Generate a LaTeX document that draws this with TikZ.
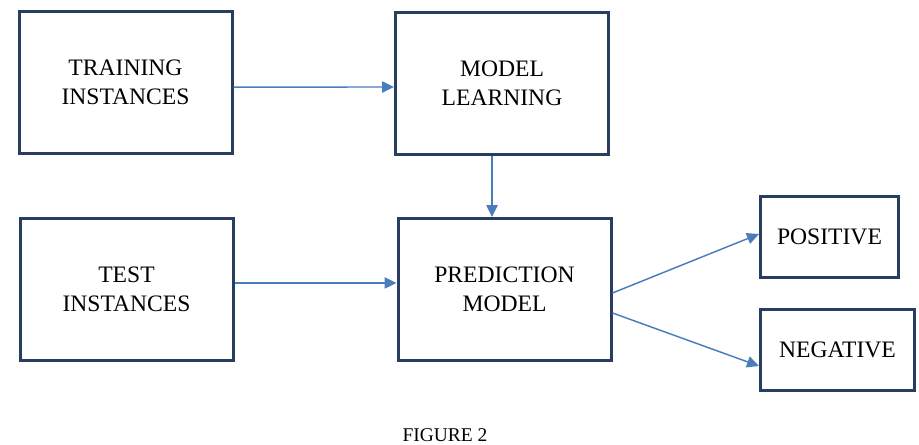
\documentclass[tikz,border=0pt]{standalone}
\usepackage{fontspec}
\setmainfont{Liberation Serif}
\usetikzlibrary{arrows.meta}
\definecolor{boxnavy}{RGB}{40,62,96}
\definecolor{arrblue}{RGB}{74,126,187}
\tikzset{
  box/.style={draw=boxnavy, line width=2.25pt, fill=white, align=center,
    minimum width=159.75pt, minimum height=106.5pt, inner sep=0pt,
    font=\fontsize{17.7}{21.75}\selectfont},
  outbox/.style={box, minimum height=60.75pt},
  arr/.style={draw=arrblue, line width=1.1pt, -{Triangle[length=9pt,width=8.5pt]}}
}
\begin{document}
\begin{tikzpicture}[x=0.75pt, y=-0.75pt]
    \useasboundingbox (0,0) rectangle (919,444);

    % left column
    \node[box] (train) at (125.5,82.5) {TRAINING\\INSTANCES};
    \node[box] (test) at (126.5,289.5) {TEST\\INSTANCES};

    % middle column
    \node[box] (learn) at (502,83) {MODEL\\LEARNING};
    \node[box] (pred) at (504.5,289.5) {PREDICTION\\MODEL};

    % outcomes
    \node[outbox, minimum width=103.5pt] (pos) at (829.5,237) {POSITIVE};
    \node[outbox, minimum width=115.5pt] (neg) at (837.5,350) {NEGATIVE};

    \draw[arr] ([yshift=-3.4pt]train.east) -- ([yshift=-3pt]learn.west);
    \draw[arr] ([xshift=-7.5pt]learn.south) -- ([xshift=-7.5pt]learn.south |- pred.north);
    \draw[arr] ([yshift=4.9pt]test.east) -- ([yshift=4.9pt]pred.west);

    % split into the two classes
    \draw[arr] ([yshift=-2.6pt]pred.east) -- ([yshift=2.25pt]pos.west);
    \draw[arr] ([yshift=-17.6pt]pred.east) -- ([yshift=-12pt]neg.west);

    \node[font=\fontsize{14.6}{17}\selectfont] (caption) at (445,435) {FIGURE 2};
\end{tikzpicture}
\end{document}
